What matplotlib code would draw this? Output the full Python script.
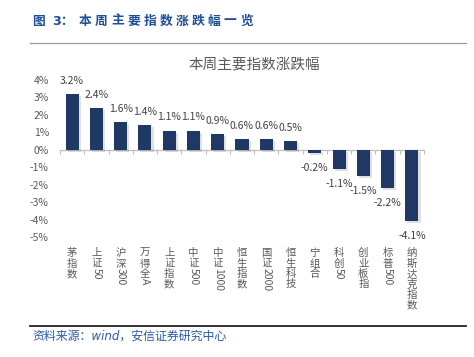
import numpy as np
import matplotlib
matplotlib.use("Agg")
from matplotlib import pyplot as plt
from matplotlib import patheffects as pe

plt.rcParams['font.family'] = ['Noto Sans CJK SC', 'DejaVu Sans']

# data
names = ['茅指数', '上证50', '沪深300', '万得全A', '上证指数', '中证500', '中证1000',
         '恒生指数', '国证2000', '恒生科技', '宁组合', '科创50', '创业板指', '标普500',
         '纳斯达克指数']
changes = [3.2, 2.4, 1.6, 1.4, 1.1, 1.1, 0.9, 0.6, 0.6, 0.5, -0.2, -1.1, -1.5, -2.2, -4.1]
yticks = [-5, -4, -3, -2, -1, 0, 1, 2, 3, 4]

W, H = 474, 357
fig = plt.figure(figsize=(W / 100, H / 100), dpi=100)

# header
title_col = '#1f4e99'
fig.text(32 / W, 1 - 21 / H, '图', fontsize=9.2, fontweight='bold', color=title_col,
         ha='left', va='center')
fig.text(52 / W, 1 - 21 / H, '3：', fontsize=9.2, fontweight='bold', color=title_col,
         ha='left', va='center', family=['DejaVu Sans', 'Noto Sans CJK SC'])
for k, ch in enumerate('本周主要指数涨跌幅一览'):
    fig.text((79 + k * 16.1) / W, 1 - 21 / H, ch, fontsize=9.2, fontweight='bold',
             color=title_col, ha='left', va='center')
fig.add_artist(plt.Line2D([30 / W, 466 / W], [1 - 43 / H, 1 - 43 / H],
                          color='#9a9a9a', lw=0.9))

# footer
fig.add_artist(plt.Line2D([30 / W, 466 / W], [1 - 326 / H, 1 - 326 / H],
                          color='#222222', lw=1.3))
fig.text(32 / W, 1 - 336 / H, '资料来源：wind，安信证券研究中心', fontsize=8.6,
         color='#2a5aa8', style='italic', ha='left', va='center',
         family=['DejaVu Sans', 'Noto Sans CJK SC'])

# chart
ax = fig.add_axes([60 / W, 1 - 237 / H, 364 / W, 157 / H])
x = np.arange(len(names))
bars = ax.bar(x, changes, width=0.54, color='#1f3864', zorder=3)
for b in bars:
    b.set_path_effects([pe.SimplePatchShadow(offset=(1.5, -1.5), alpha=0.18,
                                             shadow_rgbFace='#555555'), pe.Normal()])

ax.set_xlim(-0.5, len(names) - 0.5)
ax.set_ylim(-5, 4)
ax.set_yticks(yticks)
ax.set_yticklabels([f'{v}%' for v in yticks])
ax.tick_params(axis='y', length=0, pad=8, labelsize=7.5, labelcolor='#595959')

for s in ['top', 'right', 'left']:
    ax.spines[s].set_visible(False)
ax.spines['bottom'].set_position(('data', 0))
ax.spines['bottom'].set_color('#bfbfbf')
ax.spines['bottom'].set_linewidth(0.9)
ax.set_xticks(np.arange(len(names) + 1) - 0.5)
ax.set_xticklabels([])
ax.tick_params(axis='x', length=3, color='#bfbfbf', width=0.8, direction='out')

ax.set_title('本周主要指数涨跌幅', fontsize=10.5, color='#595959', x=0.535, y=1.0, pad=8)

# value labels
for xi, v in zip(x, changes):
    off = 9.5 if v >= 0 else -10.5
    ax.annotate(f'{v:.1f}%', xy=(xi, v), xytext=(0, off), textcoords='offset points',
                ha='center', va='center', fontsize=7.5, color='#404040')

# vertical category labels: CJK upright, latin runs turned clockwise
fs = 7.5
em = fs  # points per CJK glyph


def tokens(s):
    out = []
    buf = ''
    for ch in s:
        if ord(ch) < 128:
            buf += ch
        else:
            if buf:
                out.append(buf)
                buf = ''
            out.append(ch)
    if buf:
        out.append(buf)
    return out


for xi, name in zip(x, names):
    y = -8.0
    for tok in tokens(name):
        if ord(tok[0]) < 128:
            ax.annotate(tok, xy=(xi, 0), xycoords=('data', 'axes fraction'),
                        xytext=(0, y + 1.0), textcoords='offset points', rotation=-90,
                        ha='center', va='top', fontsize=fs, color='#595959')
            y -= len(tok) * 0.56 * fs + (0.1 * fs if 'A' in tok else 0)
        else:
            ax.annotate(tok, xy=(xi, 0), xycoords=('data', 'axes fraction'),
                        xytext=(0, y), textcoords='offset points',
                        ha='center', va='top', fontsize=fs, color='#595959')
            y -= em

fig.savefig('out.png', dpi=100)
